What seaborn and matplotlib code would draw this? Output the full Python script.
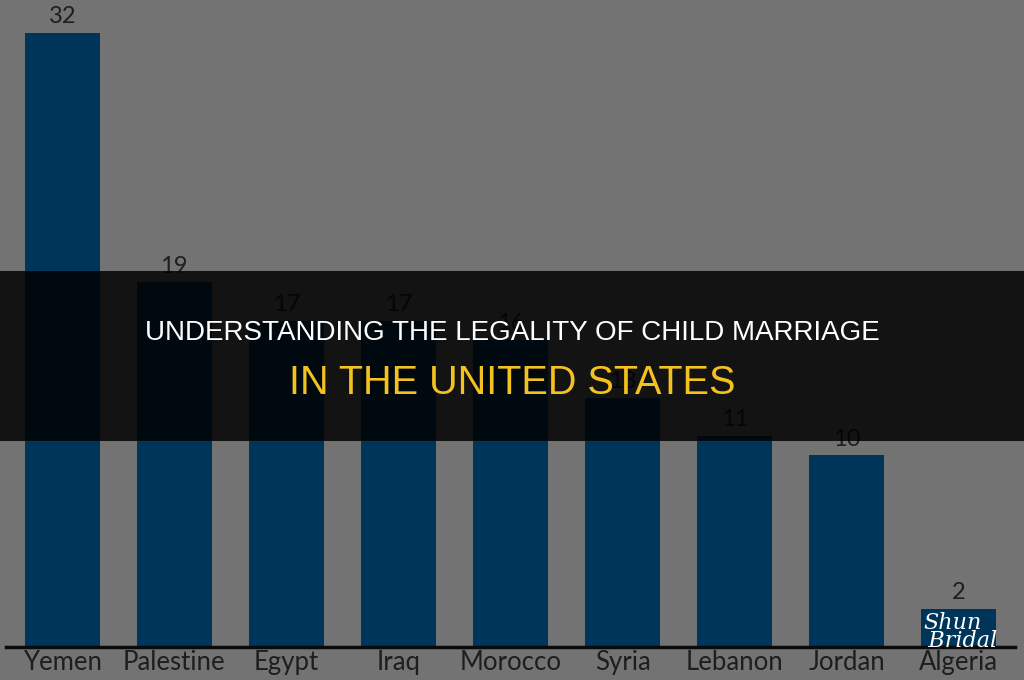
import numpy as np
import pandas as pd
import matplotlib
matplotlib.use("Agg")
import matplotlib.pyplot as plt
import seaborn as sns

# data
countries = ["Yemen", "Palestine", "Egypt", "Iraq", "Morocco", "Syria", "Lebanon", "Jordan", "Algeria"]
values = [32, 19, 17, 17, 16, 13, 11, 10, 2]

title_line1 = "UNDERSTANDING THE LEGALITY OF CHILD MARRIAGE"
title_line2 = "IN THE UNITED STATES"

df = pd.DataFrame({"country": countries, "value": values})

sns.set_style("white")
plt.rcParams["font.family"] = ["Lato", "DejaVu Sans"]

bg = "#737373"
fig = plt.figure(figsize=(10.24, 6.8), dpi=100, facecolor=bg)
ax = fig.add_axes([0.006, 0.048, 0.985, 0.952])
ax.set_facecolor(bg)

sns.barplot(data=df, x="country", y="value", color="#00355a", width=0.67,
            saturation=1, linewidth=0, ax=ax)

for i, v in enumerate(values):
    ax.text(i, v + 0.3, str(v), ha="center", va="bottom", fontsize=17, color="#1e1e1e")

ax.set_xlim(-0.5, 8.5)
ax.set_ylim(0, 33.7)
ax.set_xlabel("")
ax.set_ylabel("")
ax.set_yticks([])
ax.tick_params(axis="x", length=0, labelsize=18.5, labelcolor="#1e1e1e", pad=2)
for s in ["top", "right", "left"]:
    ax.spines[s].set_visible(False)
ax.spines["bottom"].set_color("#0a0a0a")
ax.spines["bottom"].set_linewidth(2.5)

# dark banner across the middle
fig.patches.append(plt.Rectangle((0, 1 - 441 / 680), 1, 170 / 680, transform=fig.transFigure,
                                 facecolor="black", edgecolor="none", linewidth=0,
                                 alpha=0.83, zorder=5))
fig.text(0.5, 1 - 333 / 680, title_line1, ha="center", va="center", fontsize=20,
         color="white", family=["Liberation Sans", "DejaVu Sans"], zorder=6)
fig.text(0.5, 1 - 383 / 680, title_line2, ha="center", va="center", fontsize=28.5,
         color="#f4c21f", family=["Liberation Sans", "DejaVu Sans"], zorder=6)

# watermark
fig.text(0.93, 1 - 632 / 680, "Shun\n   Bridal", ha="center", va="center", fontsize=16,
         color="white", style="italic", family=["DejaVu Serif"], linespacing=0.8, zorder=6)

fig.savefig("out.png", dpi=100, facecolor=bg)
